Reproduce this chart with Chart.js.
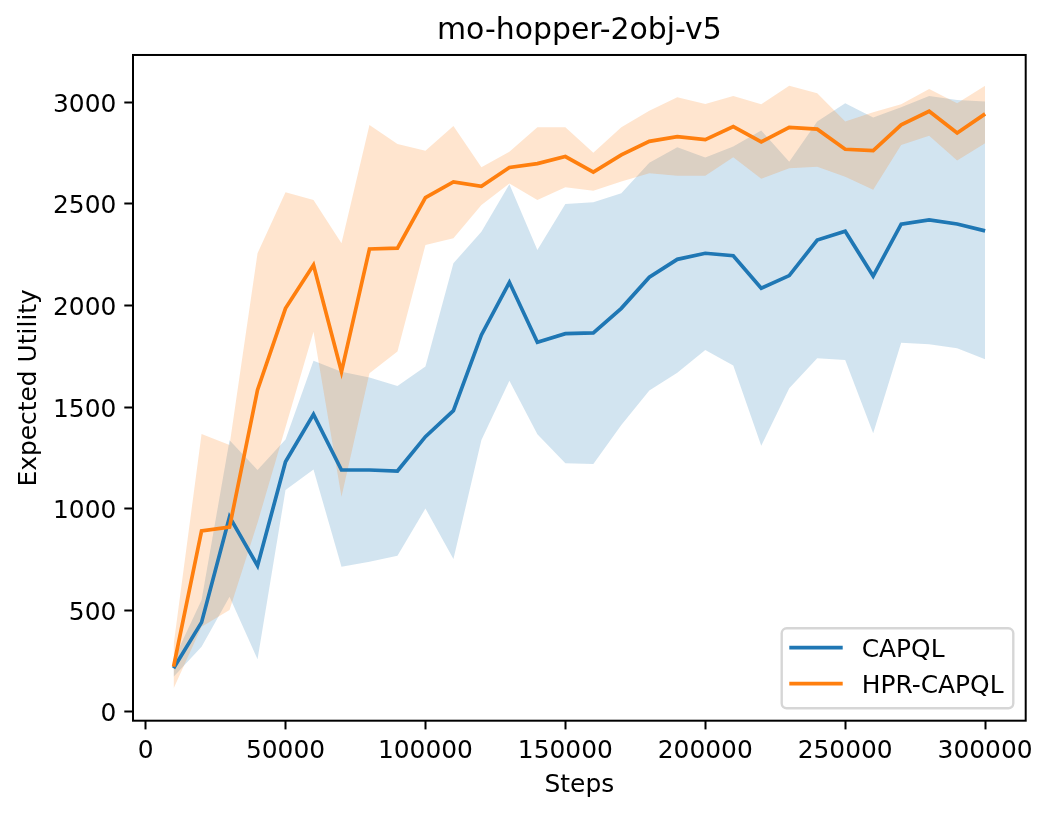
<!DOCTYPE html>
<html>
<head>
<meta charset="utf-8">
<script src="https://cdn.jsdelivr.net/npm/chart.js@4"></script>
<style>
  html, body { margin: 0; padding: 0; background: #ffffff; }
  #wrap { width: 1050px; height: 814px; }
</style>
</head>
<body>
<div id="wrap"><canvas id="c" width="1050" height="814"></canvas></div>
<script>
// ---- data ----
const steps = [10000, 20000, 30000, 40000, 50000, 60000, 70000, 80000, 90000, 100000,
  110000, 120000, 130000, 140000, 150000, 160000, 170000, 180000, 190000, 200000,
  210000, 220000, 230000, 240000, 250000, 260000, 270000, 280000, 290000, 300000];

const capqlMean = [214, 440, 960, 719, 1231, 1464, 1190, 1190, 1185, 1354,
  1482, 1855, 2114, 1819, 1861, 1865, 1986, 2139, 2227, 2257,
  2245, 2085, 2147, 2322, 2365, 2145, 2400, 2421, 2401, 2367];
const capqlUpper = [256, 550, 1337, 1190, 1340, 1728, 1674, 1645, 1604, 1699,
  2208, 2363, 2597, 2273, 2500, 2508, 2552, 2703, 2779, 2728,
  2782, 2861, 2708, 2905, 2995, 2925, 2976, 3031, 3012, 3004];
const capqlLower = [172, 320, 566, 258, 1092, 1193, 714, 739, 768, 1001,
  752, 1338, 1630, 1366, 1223, 1220, 1412, 1581, 1669, 1781,
  1704, 1310, 1592, 1740, 1732, 1371, 1817, 1809, 1789, 1735];

const hprMean = [222, 890, 909, 1584, 1986, 2199, 1674, 2278, 2282, 2531,
  2608, 2587, 2679, 2698, 2733, 2656, 2741, 2808, 2831, 2816,
  2880, 2805, 2877, 2868, 2769, 2762, 2889, 2956, 2849, 2943];
const hprUpper = [329, 1367, 1313, 2257, 2557, 2519, 2306, 2888, 2795, 2762,
  2884, 2680, 2757, 2877, 2877, 2752, 2877, 2959, 3025, 2992,
  3031, 2991, 3081, 3045, 2905, 2951, 2991, 3066, 2995, 3082];
const hprLower = [115, 418, 501, 930, 1400, 1871, 1059, 1666, 1773, 2298,
  2331, 2495, 2600, 2519, 2582, 2565, 2610, 2651, 2638, 2639,
  2730, 2624, 2675, 2683, 2634, 2569, 2790, 2836, 2713, 2799];

const xTicks = [0, 50000, 100000, 150000, 200000, 250000, 300000];
const yTicks = [0, 500, 1000, 1500, 2000, 2500, 3000];

const seriesNames = ['CAPQL', 'HPR-CAPQL'];
const seriesColors = ['#1f77b4', '#ff7f0e'];
const bandColors = ['rgba(31,119,180,0.2)', 'rgba(255,127,14,0.2)'];

// ---- build ----
const pts = arr => arr.map((v, i) => ({x: steps[i], y: v}));
const FONT = 'DejaVu Sans';
const FS = 24.9;
const LW = 3.7;

Chart.defaults.color = '#000000';
Chart.defaults.font.family = FONT;

const lineDs = (label, data, color, order) => ({
  label, data: pts(data), borderColor: color, backgroundColor: color,
  borderWidth: LW, pointRadius: 0, pointHoverRadius: 0, tension: 0,
  fill: false, order, borderCapStyle: 'butt', borderJoinStyle: 'miter'
});
const bandDs = (label, data, fillColor, fill, order) => ({
  label, data: pts(data), borderWidth: 0, borderColor: 'rgba(0,0,0,0)',
  backgroundColor: fillColor, pointRadius: 0, pointHoverRadius: 0,
  tension: 0, fill, order
});

const frameAndLegend = {
  id: 'frameAndLegend',
  afterDatasetsDraw(chart) {
    const {ctx, chartArea: a} = chart;
    ctx.save();
    ctx.strokeStyle = '#000000';
    ctx.lineWidth = 2;
    ctx.strokeRect(a.left, a.top, a.right - a.left, a.bottom - a.top);

    // legend box (lower right)
    const bx = 781.7, by = 628.3, bw = 231.6, bh = 80, r = 5;
    ctx.beginPath();
    ctx.moveTo(bx + r, by);
    ctx.lineTo(bx + bw - r, by);
    ctx.arcTo(bx + bw, by, bx + bw, by + r, r);
    ctx.lineTo(bx + bw, by + bh - r);
    ctx.arcTo(bx + bw, by + bh, bx + bw - r, by + bh, r);
    ctx.lineTo(bx + r, by + bh);
    ctx.arcTo(bx, by + bh, bx, by + bh - r, r);
    ctx.lineTo(bx, by + r);
    ctx.arcTo(bx, by, bx + r, by, r);
    ctx.closePath();
    ctx.fillStyle = 'rgba(255,255,255,0.8)';
    ctx.fill();
    ctx.strokeStyle = 'rgba(204,204,204,0.8)';
    ctx.lineWidth = 2.4;
    ctx.stroke();

    const rows = [647.7, 683.7];
    ctx.font = FS + 'px "' + FONT + '"';
    ctx.textAlign = 'left';
    ctx.textBaseline = 'alphabetic';
    seriesNames.forEach((name, i) => {
      ctx.strokeStyle = seriesColors[i];
      ctx.lineWidth = LW;
      ctx.beginPath();
      ctx.moveTo(789.3, rows[i]);
      ctx.lineTo(842.7, rows[i]);
      ctx.stroke();
      ctx.fillStyle = '#000000';
      ctx.fillText(name, 861.7, rows[i] + 9.1);
    });
    ctx.restore();
  }
};

new Chart(document.getElementById('c'), {
  type: 'line',
  data: {
    datasets: [
      lineDs(seriesNames[0], capqlMean, seriesColors[0], 1),
      lineDs(seriesNames[1], hprMean, seriesColors[1], 0),
      bandDs('capql-upper', capqlUpper, bandColors[0], '+1', 4),
      bandDs('capql-lower', capqlLower, bandColors[0], false, 5),
      bandDs('hpr-upper', hprUpper, bandColors[1], '+1', 2),
      bandDs('hpr-lower', hprLower, bandColors[1], false, 3)
    ]
  },
  options: {
    responsive: false,
    animation: false,
    devicePixelRatio: 1,
    layout: {padding: {left: 0, right: 24.3, top: 0, bottom: 0}},
    plugins: {
      legend: {display: false},
      tooltip: {enabled: false},
      filler: {drawTime: 'beforeDatasetDraw'},
      title: {
        display: true,
        text: 'mo-hopper-2obj-v5',
        fullSize: false,
        font: {family: FONT, size: 29.9, weight: 'normal', lineHeight: 1.2},
        color: '#000000',
        padding: {top: 13.6, bottom: 5.5}
      }
    },
    scales: {
      x: {
        type: 'linear',
        min: -4500,
        max: 314500,
        afterBuildTicks: s => { s.ticks = xTicks.map(v => ({value: v})); },
        afterFit: s => { s.height = 93.3; },
        grid: {display: true, drawOnChartArea: false, drawTicks: true,
               tickLength: 8.7, tickWidth: 2, tickColor: '#000000'},
        border: {display: false},
        ticks: {
          callback: v => String(v),
          maxRotation: 0, autoSkip: false, padding: 7,
          font: {family: FONT, size: FS}, color: '#000000'
        },
        title: {
          display: true, text: 'Steps',
          font: {family: FONT, size: FS, lineHeight: 1.2},
          color: '#000000', padding: {top: 0, bottom: 13.5}
        }
      },
      y: {
        type: 'linear',
        min: -44,
        max: 3233,
        afterBuildTicks: s => { s.ticks = yTicks.map(v => ({value: v})); },
        afterFit: s => { s.width = 133; },
        grid: {display: true, drawOnChartArea: false, drawTicks: true,
               tickLength: 8.7, tickWidth: 2, tickColor: '#000000'},
        border: {display: false},
        ticks: {
          callback: v => String(v),
          autoSkip: false, padding: 8, labelOffset: 3,
          font: {family: FONT, size: FS}, color: '#000000'
        },
        title: {
          display: true, text: 'Expected Utility',
          font: {family: FONT, size: FS, lineHeight: 1.2},
          color: '#000000', padding: {top: 15, bottom: 0}
        }
      }
    }
  },
  plugins: [frameAndLegend]
});
</script>
</body>
</html>
